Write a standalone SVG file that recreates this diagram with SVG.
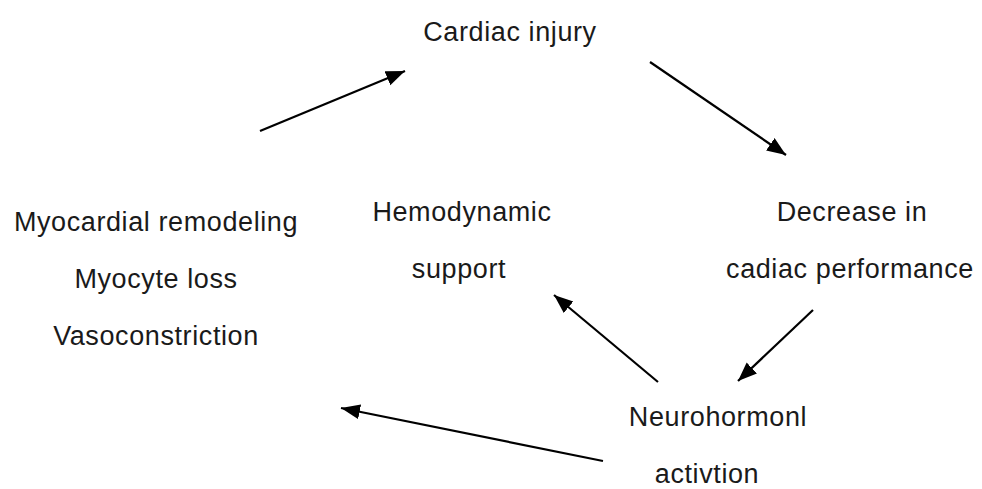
<svg xmlns="http://www.w3.org/2000/svg" width="982" height="489" viewBox="0 0 982 489">
<style>
text{font-family:"Liberation Sans",Arial,sans-serif;font-size:27px;fill:#1a1a1a;text-anchor:middle;letter-spacing:0.6px}
.c line{stroke:#000;stroke-width:2.2;fill:none;marker-end:url(#ah)}
</style>
<defs>
<marker id="ah" markerUnits="userSpaceOnUse" markerWidth="20" markerHeight="16" refX="19" refY="7.5" orient="auto">
<path d="M0,0 L19,7.5 L0,15 z" fill="#000"/>
</marker>
</defs>
<rect width="982" height="489" fill="#fff"/>
<g id="cardiac-injury"><text x="510" y="41">Cardiac injury</text></g>
<g id="remodeling"><text x="156" y="231">Myocardial remodeling</text><text x="156" y="288">Myocyte loss</text><text x="156" y="345">Vasoconstriction</text></g>
<g id="hemodynamic"><text x="462" y="221">Hemodynamic</text><text x="459" y="278">support</text></g>
<g id="decrease"><text x="852" y="221">Decrease in</text><text x="850" y="278">cadiac performance</text></g>
<g id="neurohormonal"><text x="718" y="426">Neurohormonl</text><text x="707" y="483">activtion</text></g>
<g class="c" id="connectors">
<line x1="260" y1="131" x2="405" y2="71"/>
<line x1="650" y1="62" x2="786" y2="155"/>
<line x1="813" y1="310" x2="738" y2="381"/>
<line x1="658" y1="382" x2="554" y2="295"/>
<line x1="603" y1="461" x2="341" y2="408"/>
</g>
</svg>
